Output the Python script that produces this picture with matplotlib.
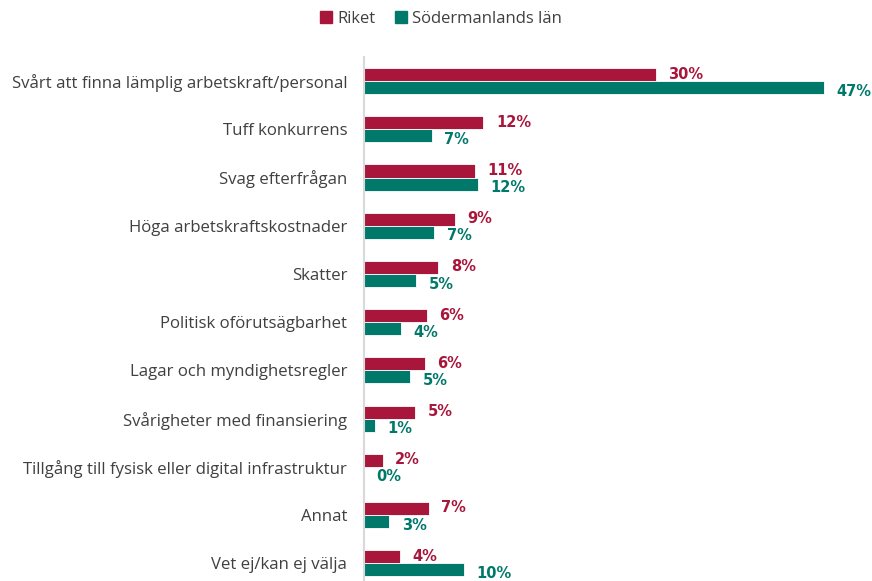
import matplotlib
matplotlib.use("Agg")
import matplotlib.pyplot as plt
from matplotlib.patches import Patch
import numpy as np

categories = [
    "Svårt att finna lämplig arbetskraft/personal",
    "Tuff konkurrens",
    "Svag efterfrågan",
    "Höga arbetskraftskostnader",
    "Skatter",
    "Politisk oförutsägbarhet",
    "Lagar och myndighetsregler",
    "Svårigheter med finansiering",
    "Tillgång till fysisk eller digital infrastruktur",
    "Annat",
    "Vet ej/kan ej välja",
]
riket = [29.8, 12.2, 11.3, 9.3, 7.6, 6.4, 6.2, 5.2, 1.9, 6.6, 3.7]
soder = [47.0, 6.9, 11.6, 7.2, 5.3, 3.8, 4.7, 1.1, 0.0, 2.6, 10.2]
riket_labels = ["30%", "12%", "11%", "9%", "8%", "6%", "6%", "5%", "2%", "7%", "4%"]
soder_labels = ["47%", "7%", "12%", "7%", "5%", "4%", "5%", "1%", "0%", "3%", "10%"]
series_names = ["Riket", "Södermanlands län"]

RED = "#A8173B"
TEAL = "#00796B"
TXT = "#404040"

plt.rcParams["font.family"] = ["Open Sans", "DejaVu Sans"]

W, H = 872, 581
fig = plt.figure(figsize=(W / 100, H / 100), dpi=100)
ax = fig.add_axes([364 / W, 0, 1 - 364 / W, 1 - 57 / H])

y = np.arange(len(categories))
h = 0.27
ax.barh(y - h / 2, riket, height=h, color=RED, edgecolor="white", linewidth=0.6)
ax.barh(y + h / 2, soder, height=h, color=TEAL, edgecolor="white", linewidth=0.6)

for i in range(len(categories)):
    ax.annotate(riket_labels[i], (riket[i], y[i] - h / 2), xytext=(9, 1.5),
                textcoords="offset points", ha="left", va="center_baseline",
                color=RED, fontsize=10.5, fontweight="bold", family="DejaVu Sans",
                annotation_clip=False)
    ax.annotate(soder_labels[i], (soder[i], y[i] + h / 2), xytext=(9, -1.5),
                textcoords="offset points", ha="left", va="center_baseline",
                color=TEAL, fontsize=10.5, fontweight="bold", family="DejaVu Sans",
                annotation_clip=False)

ax.set_ylim(10.37, -0.5)
ax.set_xlim(0, 51.9)
ax.set_yticks(y)
ax.set_yticklabels(categories, fontsize=12.1, color=TXT)
ax.tick_params(axis="y", length=0, pad=12)
ax.set_xticks([])
for s in ["top", "right", "bottom"]:
    ax.spines[s].set_visible(False)
ax.spines["left"].set_color("#D9D9D9")
ax.spines["left"].set_linewidth(1.5)

handles = [Patch(color=RED), Patch(color=TEAL)]
fig.legend(handles, series_names, loc="center", bbox_to_anchor=(441 / W, 1 - 19 / H),
           ncol=2, frameon=False, fontsize=12, handlelength=0.7, handleheight=0.7,
           handletextpad=0.3, columnspacing=1.2, labelcolor=TXT)

fig.savefig("out.png", dpi=100)
